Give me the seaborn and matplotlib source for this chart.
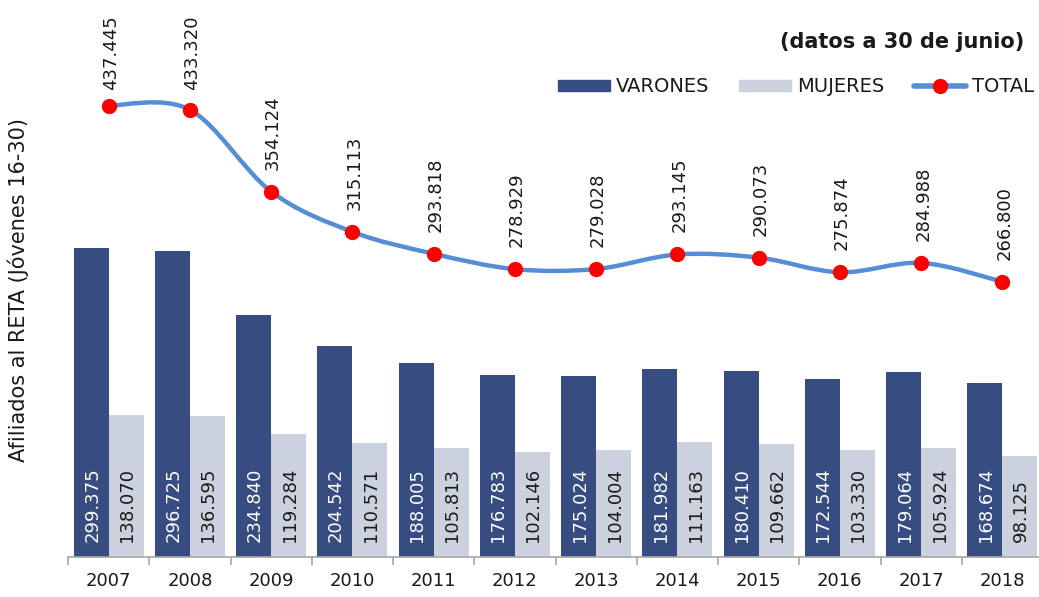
import numpy as np
import pandas as pd
import matplotlib
matplotlib.use("Agg")
import matplotlib.pyplot as plt
from matplotlib.path import Path
from matplotlib.patches import PathPatch, Patch
from matplotlib.lines import Line2D
import seaborn as sns

# Data (afiliados al RETA, jovenes 16-30, a 30 de junio)
years = ["2007", "2008", "2009", "2010", "2011", "2012",
         "2013", "2014", "2015", "2016", "2017", "2018"]
varones = [299375, 296725, 234840, 204542, 188005, 176783,
           175024, 181982, 180410, 172544, 179064, 168674]
mujeres = [138070, 136595, 119284, 110571, 105813, 102146,
           104004, 111163, 109662, 103330, 105924, 98125]
total = [437445, 433320, 354124, 315113, 293818, 278929,
         279028, 293145, 290073, 275874, 284988, 266800]

NAVY = "#374c80"
LIGHT = "#cbd1dd"
LINE = "#558ed5"
RED = "#ff0000"
TXT = "#1a1a1a"


def fmt(v):
    return f"{v:,}".replace(",", ".")


sns.set_theme(style="white")
plt.rcParams['font.family'] = ['DejaVu Sans']

fig = plt.figure(figsize=(10.39, 5.97), dpi=100)
ax = fig.add_axes([68 / 1039, 40 / 597, 975 / 1039, 557 / 597])

df = pd.DataFrame({
    "year": years * 2,
    "sexo": ["VARONES"] * len(years) + ["MUJERES"] * len(years),
    "afiliados": varones + mujeres,
})
sns.barplot(data=df, x="year", y="afiliados", hue="sexo",
            palette={"VARONES": NAVY, "MUJERES": LIGHT}, saturation=1,
            width=0.86, gap=0, linewidth=0, legend=False, ax=ax)

# values inside the bars
for cont, col in zip(ax.containers, ["white", TXT]):
    for bar, v in zip(cont, cont.datavalues):
        ax.annotate(fmt(int(v)), xy=(bar.get_x() + bar.get_width() / 2, 0),
                    xytext=(1, 15), textcoords="offset pixels",
                    rotation=90, ha="center", va="bottom",
                    fontsize=13, color=col)

# smoothed total line (Bezier through the points, like Excel)
xs = np.arange(len(total), dtype=float)
ys = np.array(total, dtype=float)
n = len(xs)
verts = [(xs[0], ys[0])]
codes = [Path.MOVETO]
for i in range(n - 1):
    p0 = max(i - 1, 0)
    p3 = min(i + 2, n - 1)
    c1 = (xs[i] + (xs[i + 1] - xs[p0]) / 6, ys[i] + (ys[i + 1] - ys[p0]) / 6)
    c2 = (xs[i + 1] - (xs[p3] - xs[i]) / 6, ys[i + 1] - (ys[p3] - ys[i]) / 6)
    verts += [c1, c2, (xs[i + 1], ys[i + 1])]
    codes += [Path.CURVE4] * 3
ax.add_patch(PathPatch(Path(verts, codes), facecolor="none", edgecolor=LINE,
                       lw=3.2, zorder=3, capstyle="round"))
ax.plot(xs, ys, "o", color=RED, ms=10, zorder=4)

# axes styling
ax.set_xlim(-0.5, len(years) - 0.5)
ax.set_ylim(0, 539700)

# total labels above the points, kept inside the plot area (like Excel)
top_px = fig.bbox.height - 90  # highest allowed label bottom, in pixels
for x, v in zip(xs, total):
    py = ax.transData.transform((x, v))[1]
    off = min(22, top_px - py)
    ax.annotate(fmt(v), xy=(x, v), xytext=(2, off), textcoords="offset pixels",
                rotation=90, ha="center", va="bottom", fontsize=13, color=TXT)

ax.set_xlabel("")
ax.set_ylabel("")
ax.set_yticks([])
for s in ["left", "right", "top"]:
    ax.spines[s].set_visible(False)
ax.spines["bottom"].set_color("#a6a6a6")
ax.spines["bottom"].set_linewidth(1.2)
ax.set_xticks(range(len(years)))
ax.set_xticklabels(years, fontsize=13, color=TXT)
ax.set_xticks(np.arange(-0.5, len(years), 1), minor=True)
ax.tick_params(axis="x", which="major", length=0, pad=11)
ax.tick_params(axis="x", which="minor", length=6, width=1.2, color="#a6a6a6",
               bottom=True)

fig.text(18 / 1039, 1 - 290 / 597, "Afiliados al RETA (Jóvenes 16-30)",
         rotation=90, ha="center", va="center", fontsize=15, color=TXT)
fig.text(1024 / 1039, 1 - 42 / 597, "(datos a 30 de junio)",
         ha="right", va="center", fontsize=15, fontweight="bold", color=TXT)

handles = [Patch(color=NAVY), Patch(color=LIGHT),
           Line2D([], [], color=LINE, lw=4, marker="o", mfc=RED, mec=RED, ms=10)]
fig.legend(handles, ["VARONES", "MUJERES", "TOTAL"], loc="center right",
           bbox_to_anchor=(1034 / 1039, 1 - 87 / 597), ncol=3, frameon=False,
           fontsize=14, handlelength=2.7, handleheight=0.55, handletextpad=0.3,
           columnspacing=1.5, borderpad=0, borderaxespad=0, labelcolor=TXT)

fig.savefig("out.png", dpi=100)
